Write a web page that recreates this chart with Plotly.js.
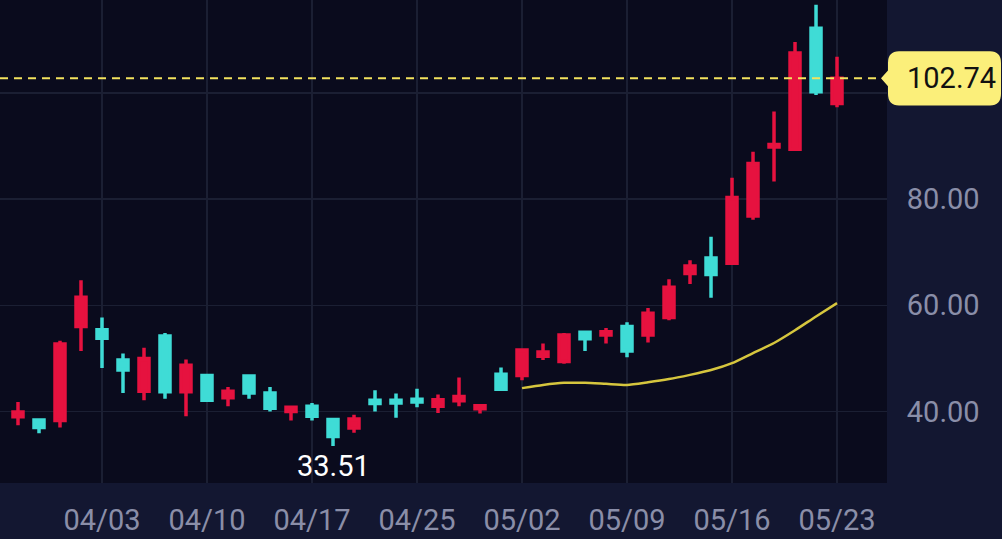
<!DOCTYPE html>
<html>
<head>
<meta charset="utf-8">
<script src="https://cdn.plot.ly/plotly-3.0.1.min.js"></script>
<style>
html,body{margin:0;padding:0;background:#131731;}
#chart{width:1002px;height:539px;}
</style>
</head>
<body>
<div id="chart"></div>
<script>
const dates = ["2023-03-28","2023-03-29","2023-03-30","2023-03-31","2023-04-03","2023-04-04","2023-04-05","2023-04-06","2023-04-07","2023-04-10",
"2023-04-11","2023-04-12","2023-04-13","2023-04-14","2023-04-17","2023-04-18","2023-04-19","2023-04-20","2023-04-21","2023-04-25",
"2023-04-26","2023-04-27","2023-04-28","2023-05-01","2023-05-02","2023-05-03","2023-05-04","2023-05-05","2023-05-08","2023-05-09",
"2023-05-10","2023-05-11","2023-05-12","2023-05-15","2023-05-16","2023-05-17","2023-05-18","2023-05-19","2023-05-22","2023-05-23"];
const openV  = [39.0,38.4,38.3,56.0,55.4,49.7,43.8,54.2,43.7,46.8, 42.6,46.7,43.5,40.0,41.0,38.5,36.9,42.1,42.1,42.3, 41.0,42.0,40.5,47.0,46.8,50.4,49.4,54.9,54.4,56.0, 54.4,57.7,66.0,68.9,67.9,76.8,89.8,89.4,112.2,98.0];
const highV  = [41.8,38.5,53.3,64.7,57.7,50.9,52.0,54.8,49.8,46.9, 44.6,47.0,44.6,40.9,41.6,38.6,39.4,44.0,43.4,44.3, 43.2,46.4,41.3,48.3,51.8,52.8,54.8,55.0,55.7,56.8, 59.5,64.9,68.5,72.9,84.0,88.9,96.5,109.6,116.6,106.8];
const lowV   = [37.4,35.9,37.0,51.4,48.2,43.5,42.1,42.4,39.1,41.8, 41.0,42.4,40.0,38.3,38.3,33.51,36.0,40.0,38.8,40.8, 39.7,41.0,39.6,44.0,45.9,49.7,49.0,51.4,52.8,50.2, 53.0,57.2,64.0,61.4,67.6,76.1,83.3,89.4,99.6,97.3];
const closeV = [39.9,37.0,52.7,61.5,53.8,47.8,50.0,43.7,48.7,42.1, 43.8,43.5,40.6,40.8,39.1,35.3,38.6,41.5,41.6,41.8, 42.2,42.8,41.1,44.2,51.6,51.2,54.4,53.7,55.0,51.4, 58.5,63.4,67.4,65.8,80.3,86.7,90.3,107.5,100.2,102.74];
const maDates = dates.slice(24);
const maV = [44.4,45.0,45.4,45.4,45.2,45.0,45.5,46.1,46.9,47.8,49.1,51.0,52.9,55.3,57.9,60.4];
const tickDates = ["2023-04-03","2023-04-10","2023-04-17","2023-04-25","2023-05-02","2023-05-09","2023-05-16","2023-05-23"];
const tickLabels = ["04/03","04/10","04/17","04/25","05/02","05/09","05/16","05/23"];
const yTicks = [40,60,80,100];
const yTickLabels = ["40.00","60.00","80.00",""];
const lastPrice = 102.74;
const lowLabel = "33.51";
const lowDate = "2023-04-18";
const lowPrice = 33.51;

const RED = "#e6123f", CYAN = "#3fdcd6";
const traces = [
  {
    type: "candlestick", x: dates, open: openV, high: highV, low: lowV, close: closeV,
    increasing: {line: {color: RED, width: 3.5}, fillcolor: RED},
    decreasing: {line: {color: CYAN, width: 3.5}, fillcolor: CYAN},
    whiskerwidth: 0, hoverinfo: "skip", showlegend: false
  },
  {
    type: "scatter", mode: "lines", x: maDates, y: maV,
    line: {color: "#d6c63e", width: 2.5, shape: "spline", smoothing: 0.6},
    hoverinfo: "skip", showlegend: false
  }
];

const pxX = 1/887;          // paper units per pixel horizontally
const halfH = 5.1;          // half badge height in data units
const r = 2.2;              // corner radius in data units (y)
const rx = 11*pxX;
const bx0 = 1 + 1*pxX, bx1 = 1 + 114*pxX, tip = 1 - 6*pxX;
const yb0 = lastPrice - halfH, yb1 = lastPrice + halfH;
const badgePath =
  `M ${bx0+rx} ${yb1} L ${bx1-rx} ${yb1} Q ${bx1} ${yb1} ${bx1} ${yb1-r} ` +
  `L ${bx1} ${yb0+r} Q ${bx1} ${yb0} ${bx1-rx} ${yb0} L ${bx0+rx} ${yb0} ` +
  `Q ${bx0} ${yb0} ${bx0} ${yb0+r} L ${bx0} ${lastPrice-1.5} L ${tip} ${lastPrice} ` +
  `L ${bx0} ${lastPrice+1.5} L ${bx0} ${yb1-r} Q ${bx0} ${yb1} ${bx0+rx} ${yb1} Z`;

const layout = {
  width: 1002, height: 539,
  margin: {l: 0, r: 115, t: 0, b: 56, pad: 0},
  paper_bgcolor: "#131731",
  plot_bgcolor: "#0a0b1d",
  font: {family: "Roboto, 'Noto Sans', sans-serif", color: "#8a8ea8", size: 29},
  boxgap: 0.32,
  xaxis: {
    type: "category", range: [-0.857, 41.38],
    rangeslider: {visible: false},
    tickvals: tickDates, ticktext: tickLabels,
    showgrid: true, gridcolor: "#1b1f33", gridwidth: 1.5,
    zeroline: false, showline: false,
    ticks: "outside", ticklen: 11, tickcolor: "rgba(0,0,0,0)",
    tickfont: {size: 29, color: "#8a8ea8"}, fixedrange: true
  },
  yaxis: {
    side: "right", range: [26.53, 117.5],
    tickvals: yTicks, ticktext: yTickLabels,
    showgrid: true, gridcolor: "#1b1f33", gridwidth: 1.5,
    zeroline: false, showline: false,
    ticks: "outside", ticklen: 13, tickcolor: "rgba(0,0,0,0)",
    tickfont: {size: 29, color: "#8a8ea8"}, fixedrange: true
  },
  shapes: [
    {type: "line", xref: "paper", yref: "y", x0: 0, x1: 1, y0: lastPrice, y1: lastPrice,
     line: {color: "#f3e35e", width: 2, dash: "8px,6px"}},
    {type: "path", xref: "paper", yref: "y", path: badgePath,
     fillcolor: "#fbef7a", line: {width: 0}, layer: "above"}
  ],
  annotations: [
    {xref: "paper", yref: "y", x: 1 + 64*pxX, y: lastPrice, text: lastPrice.toFixed(2),
     showarrow: false, xanchor: "center", yanchor: "middle",
     font: {size: 29, color: "#111111", family: "Roboto, sans-serif"}},
    {xref: "x", yref: "y", x: lowDate, y: lowPrice, text: lowLabel,
     showarrow: false, xanchor: "center", yanchor: "top", yshift: -1,
     font: {size: 29, color: "#ffffff", family: "Roboto, sans-serif"}}
  ],
  hovermode: false
};

Plotly.newPlot("chart", traces, layout, {staticPlot: true, displayModeBar: false});
</script>
</body>
</html>
